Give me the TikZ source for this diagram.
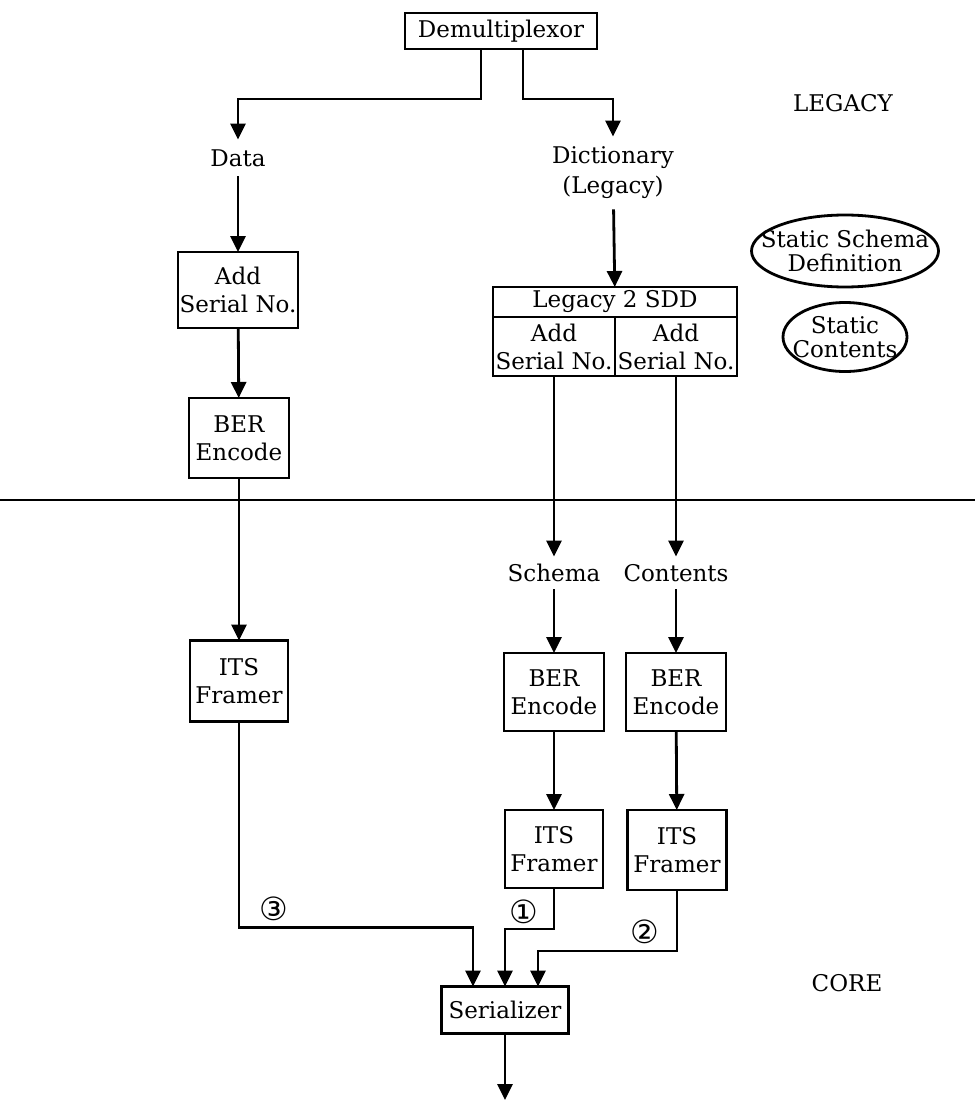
\documentclass[tikz,border=0pt]{standalone}
\usepackage{fontspec}
\setmainfont{DejaVu Serif}
\newfontfamily\circfont{DejaVu Sans}
\usepackage{tikz}
\usetikzlibrary{positioning}
\usetikzlibrary{shapes.geometric}
\usetikzlibrary{arrows.meta}

\begin{document}
\begin{tikzpicture}[
    x=0.5pt, y=-0.5pt, line width=1.4pt,
    stage/.style={draw, align=center, inner sep=0pt, outer sep=0pt,
                  font=\fontsize{11.5}{14}\selectfont},
    flow/.style={align=center, inner sep=0pt,
                 font=\fontsize{11.5}{15}\selectfont},
    store/.style={draw, ellipse, inner xsep=-10pt, inner ysep=0pt,
                  align=center, font=\fontsize{11.5}{12}\selectfont},
    circ/.style={inner sep=0pt, font=\circfont\fontsize{16}{16}\selectfont},
    >={Triangle[length=8pt,width=7.5pt]}]
    \useasboundingbox (0,0) rectangle (975,1103);
    \node[stage, minimum width=96pt, minimum height=18pt] (demux) at (501,31)
      {Demultiplexor};
    \node[flow, minimum height=17pt] (data) at (238,158) {Data};
    \node[flow, minimum height=35pt] (dict) at (613,173)
      {Dictionary\\(Legacy)};
    \node[stage, minimum width=60pt, minimum height=38pt] (addl) at (238,290)
      {Add\\Serial No.};
    \node[stage, minimum width=50pt, minimum height=40pt] (berl) at (239,438)
      {BER\\Encode};
    \node[stage, minimum width=49pt, minimum height=40.5pt] (itsl) at (239,681)
      {ITS\\Framer};
    \node[stage, minimum width=122pt, minimum height=15pt] (sdd) at (615,302)
      {Legacy 2 SDD};
    \node[stage, minimum width=61pt, minimum height=29.5pt,
          below right=0pt and 0pt of sdd.south west] (sdds) {Add\\Serial No.};
    \node[stage, minimum width=61pt, minimum height=29.5pt,
          below left=0pt and 0pt of sdd.south east] (sddc) {Add\\Serial No.};
    \node[flow, minimum height=15pt] (schema) at (554,573) {Schema};
    \node[flow, minimum height=15pt] (contents) at (676,573) {Contents};
    \node[stage, minimum width=50pt, minimum height=39pt] (bers) at (554,692)
      {BER\\Encode};
    \node[stage, minimum width=50pt, minimum height=39pt] (berc) at (676,692)
      {BER\\Encode};
    \node[stage, minimum width=49pt, minimum height=39pt] (itss) at (554,849)
      {ITS\\Framer};
    \node[stage, minimum width=49.5pt, minimum height=40pt] (itsc) at (677,850)
      {ITS\\Framer};
    \node[stage, minimum width=63.5pt, minimum height=23.5pt] (ser) at (505,1010)
      {Serializer};
    \coordinate (out) at (505,1100);
    \node[flow] (legacy) at (843,103) {LEGACY};
    \node[flow] (core) at (847,983) {CORE};
    \node[store, minimum width=93.5pt, minimum height=36pt] (ssd) at (845,251)
      {Static Schema\\Definition};
    \node[store, minimum width=62pt, minimum height=34.5pt] (sc) at (845,337)
      {Static\\Contents};
    \node[circ] (n3) at (274,909) {③};
    \node[circ] (n1) at (524,912) {①};
    \node[circ] (n2) at (645,932) {②};
    \draw (0,500) -- (975,500);
    \draw[->] ([xshift=-10pt]demux.south) -- ++(0,50) -| (data);
    \draw[->] ([xshift=11pt]demux.south) -- ++(0,50) -| (dict);
    \draw[->] (data) -- (addl);
    \draw[->] (addl) -- (berl);
    \draw[->] (berl) -- (itsl);
    \draw[->] (dict) -- (sdd);
    \draw[->] (sdds) -- (schema);
    \draw[->] (sddc) -- (contents);
    \draw[->] (schema) -- (bers);
    \draw[->] (contents) -- (berc);
    \draw[->] (bers) -- (itss);
    \draw[->] (berc) -- (itsc);
    \draw[->] (itsl.south) -- ++(0,206) -| ([xshift=-16pt]ser.north);
    \draw[->] (itss.south) -- ++(0,41) -| (ser.north);
    \draw[->] (itsc.south) -- ++(0,61) -| ([xshift=16.5pt]ser.north);
    \draw[->] (ser) -- (out);
  \end{tikzpicture}
\end{document}
